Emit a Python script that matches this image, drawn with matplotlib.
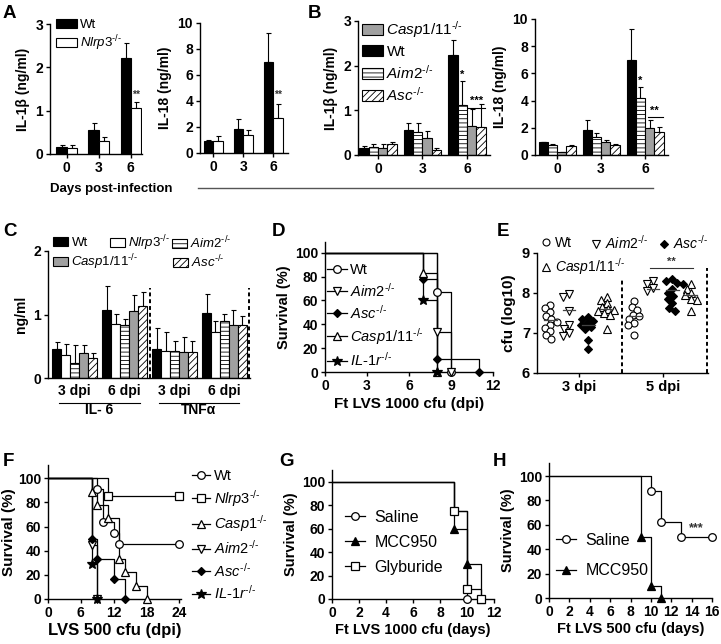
import numpy as np
import matplotlib
matplotlib.use('Agg')
import matplotlib.pyplot as plt
from matplotlib.lines import Line2D
from matplotlib.patches import Patch
import matplotlib.transforms as mtransforms

# ---------------- data ----------------
# Panel A (Wt vs Nlrp3-/-), days 0, 3, 6
A_days = ['0', '3', '6']
A_il1b_wt = [0.17, 0.55, 2.21]
A_il1b_wt_err = [0.04, 0.16, 0.36]
A_il1b_nlrp3 = [0.13, 0.30, 1.07]
A_il1b_nlrp3_err = [0.08, 0.10, 0.14]
A_il18_wt = [0.95, 1.84, 7.02]
A_il18_wt_err = [0.05, 0.77, 2.24]
A_il18_nlrp3 = [0.92, 1.40, 2.68]
A_il18_nlrp3_err = [0.41, 0.39, 1.07]

# Panel B (Wt, Aim2, Casp1/11, Asc)
B_days = ['0', '3', '6']
B_il1b_wt = [0.16, 0.56, 2.23]
B_il1b_wt_err = [0.05, 0.15, 0.35]
B_il1b_aim2 = [0.19, 0.51, 1.13]
B_il1b_aim2_err = [0.06, 0.20, 0.53]
B_il1b_casp = [0.16, 0.38, 0.64]
B_il1b_casp_err = [0.08, 0.16, 0.40]
B_il1b_asc = [0.25, 0.12, 0.63]
B_il1b_asc_err = [0.05, 0.04, 0.52]
B_il18_wt = [0.93, 1.81, 6.99]
B_il18_wt_err = [0.05, 0.76, 2.25]
B_il18_aim2 = [0.74, 1.30, 4.17]
B_il18_aim2_err = [0.05, 0.34, 0.81]
B_il18_casp = [0.22, 0.93, 1.99]
B_il18_casp_err = [0.03, 0.17, 0.58]
B_il18_asc = [0.66, 0.71, 1.67]
B_il18_asc_err = [0.10, 0.07, 0.41]

# Panel C (IL-6 3dpi, IL-6 6dpi, TNFa 3dpi, TNFa 6dpi)
C_groups = ['3 dpi', '6 dpi', '3 dpi', '6 dpi']
C_cytokines = ['IL- 6', 'TNF\u03b1']
C_wt = [0.46, 1.07, 0.46, 1.02]
C_wt_err = [0.11, 0.38, 0.33, 0.30]
C_nlrp3 = [0.37, 0.85, 0.42, 0.72]
C_nlrp3_err = [0.16, 0.16, 0.30, 0.17]
C_aim2 = [0.24, 0.84, 0.43, 0.89]
C_aim2_err = [0.28, 0.09, 0.16, 0.12]
C_casp = [0.39, 1.05, 0.41, 0.84]
C_casp_err = [0.13, 0.25, 0.24, 0.23]
C_asc = [0.31, 1.13, 0.41, 0.84]
C_asc_err = [0.08, 0.22, 0.17, 0.13]

# Panel D survival (Ft LVS 1000 cfu)
D_wt_t, D_wt_s = [0, 8, 9], [100, 66.7, 0]
D_aim2_t, D_aim2_s = [0, 8, 9], [100, 33.3, 0]
D_asc_t, D_asc_s = [0, 7, 8, 11], [100, 77.8, 11.1, 0]
D_casp_t, D_casp_s = [0, 7, 8], [100, 83.3, 0]
D_il1r_t, D_il1r_s = [0, 7, 8], [100, 60.0, 0]

# Panel E cfu (log10)
E_days = ['3 dpi', '5 dpi']
E_wt_3 = [7.70, 7.62, 7.52, 7.42, 7.35, 7.28, 7.20, 7.12, 7.05, 6.95, 6.86]
E_aim2_3 = [7.98, 7.90, 7.55, 7.20, 7.10, 7.00, 6.92]
E_asc_3 = [7.40, 7.35, 7.30, 7.25, 7.20, 7.15, 7.10, 6.82, 6.60]
E_casp_3 = [7.90, 7.82, 7.75, 7.65, 7.60, 7.58, 7.55, 7.50, 7.45, 7.10]
E_wt_5 = [7.79, 7.65, 7.58, 7.46, 7.42, 7.35, 7.25, 7.20, 6.96]
E_aim2_5 = [8.30, 8.22, 8.12, 8.05]
E_asc_5 = [8.35, 8.30, 8.25, 8.22, 8.10, 8.00, 7.92, 7.85, 7.75, 7.62, 7.55]
E_casp_5 = [8.22, 8.10, 8.00, 7.95, 7.85, 7.82, 7.55]
E_center_3 = [7.33, 7.58, 7.20, 7.60]
E_center_5 = [7.42, 8.10, 8.07, 7.95]

# Panel F survival (LVS 500 cfu)
F_wt_t, F_wt_s = [0, 9, 10, 12, 13, 24], [100, 90.9, 63.6, 54.5, 45.5, 45.5]
F_nlrp3_t, F_nlrp3_s = [0, 11, 24], [100, 85.7, 85.7]
F_casp_t, F_casp_s = [0, 8, 9, 11, 13, 14, 16, 18], [100, 88.9, 77.8, 66.7, 33.3, 22.2, 11.1, 0]
F_aim2_t, F_aim2_s = [0, 8, 9], [100, 44.4, 0]
F_asc_t, F_asc_s = [0, 8, 9, 12, 14], [100, 50.0, 33.3, 16.7, 0]
F_il1r_t, F_il1r_s = [0, 8, 9], [100, 28.6, 0]

# Panel G survival (Ft LVS 1000 cfu)
G_saline_t, G_saline_s = [0, 9, 10], [100, 75.0, 0]
G_mcc_t, G_mcc_s = [0, 9, 10, 11], [100, 60.0, 30.0, 0]
G_gly_t, G_gly_s = [0, 9, 10, 11], [100, 75.0, 8.3, 0]

# Panel H survival (Ft LVS 500 cfu)
H_saline_t, H_saline_s = [0, 10, 11, 13, 16], [100, 87.5, 62.5, 50.0, 50.0]
H_mcc_t, H_mcc_s = [0, 9, 10, 11], [100, 50.0, 10.0, 0]

# ---------------- style ----------------
plt.rcParams.update({
    'font.family': ['Liberation Sans', 'DejaVu Sans'],
    'font.weight': 'bold',
    'axes.labelweight': 'bold',
    'mathtext.fontset': 'custom',
    'mathtext.rm': 'Liberation Sans:weight=normal',
    'mathtext.it': 'Liberation Sans:style=italic:weight=normal',
    'mathtext.bf': 'Liberation Sans:weight=bold',
    'hatch.linewidth': 0.6,
    'axes.linewidth': 1.0,
    'xtick.major.width': 1.0, 'ytick.major.width': 1.0,
    'xtick.major.size': 3, 'ytick.major.size': 3,
    'xtick.major.pad': 2, 'ytick.major.pad': 2,
})

W, H = 721, 644
fig = plt.figure(figsize=(W / 100, H / 100), dpi=100)


def add_ax(x0, y0, x1, y1):
    return fig.add_axes([x0 / W, 1 - y1 / H, (x1 - x0) / W, (y1 - y0) / H])


def fx(x):
    return x / W


def fy(y):
    return 1 - y / H


def style(ax, size=10):
    for s in ['top', 'right']:
        ax.spines[s].set_visible(False)
    ax.tick_params(direction='out', labelsize=size)


def gl(name):
    return '$\\mathit{' + name + '}^{\\mathit{\u2010/\u2010}}$'


GRAY = '#a0a0a0'
ST = {
    'wt': dict(facecolor='black', edgecolor='black'),
    'nlrp3': dict(facecolor='white', edgecolor='black'),
    'aim2': dict(facecolor='white', edgecolor='black', hatch='----'),
    'casp': dict(facecolor=GRAY, edgecolor='black'),
    'asc': dict(facecolor='white', edgecolor='black', hatch='/////'),
}


def bars(ax, series, errs, styles, width):
    n = len(series)
    pos = []
    for i, (vals, er, st) in enumerate(zip(series, errs, styles)):
        x = np.arange(len(vals)) + (i - (n - 1) / 2) * width
        ax.errorbar(x, vals, yerr=[np.zeros(len(vals)), er], fmt='none', ecolor='black',
                    elinewidth=0.8, capsize=1.8, capthick=0.8, zorder=1)
        ax.bar(x, vals, width, linewidth=0.8, zorder=2, **ST[st])
        pos.append(x)
    return pos


def leg_patch(x, y, key, label, size, hl=1.6, hh=0.7):
    h = Patch(linewidth=0.8, **ST[key])
    fig.legend([h], [label], loc='center left', bbox_to_anchor=(fx(x), fy(y)), frameon=False,
               prop={'size': size, 'weight': 'normal'}, borderpad=0, borderaxespad=0,
               handlelength=hl, handleheight=hh, handletextpad=0.25)


# ---------------- Panel A ----------------
axA1 = add_ax(50, 24, 142, 154)
pA1 = bars(axA1, [A_il1b_wt, A_il1b_nlrp3], [A_il1b_wt_err, A_il1b_nlrp3_err], ['wt', 'nlrp3'], 0.32)
axA1.set_xlim(-0.52, 2.35)
axA1.set_ylim(0, 3)
axA1.set_yticks([0, 1, 2, 3])
axA1.set_xticks(range(3), A_days)
axA1.set_ylabel('IL-1\u03b2 (ng/ml)', fontsize=10, labelpad=4)
style(axA1)
axA1.text(pA1[1][2], A_il1b_nlrp3[2] + A_il1b_nlrp3_err[2] + 0.05, '**', ha='center', va='bottom',
          fontsize=7.5, color='#333333')
leg_patch(56, 25, 'wt', 'Wt', 9.5)
leg_patch(56, 43, 'nlrp3', gl('Nlrp3'), 9.5)

axA2 = add_ax(200, 23, 288, 153)
pA2 = bars(axA2, [A_il18_wt, A_il18_nlrp3], [A_il18_wt_err, A_il18_nlrp3_err], ['wt', 'nlrp3'], 0.32)
axA2.set_xlim(-0.44, 2.49)
axA2.set_ylim(0, 10)
axA2.set_yticks([0, 2, 4, 6, 8, 10])
axA2.set_xticks(range(3), A_days)
axA2.set_ylabel('IL-18 (ng/ml)', fontsize=10, labelpad=4)
style(axA2)
axA2.text(pA2[1][2], A_il18_nlrp3[2] + A_il18_nlrp3_err[2] + 0.35, '**', ha='center', va='bottom',
          fontsize=7.5, color='#333333')

fig.text(fx(50), fy(189), 'Days post-infection', fontsize=9.5, fontweight='bold', ha='left', va='center')
fig.add_artist(Line2D([fx(198), fx(653)], [fy(188), fy(188)], color='#555555', linewidth=1.0))

# ---------------- Panel B ----------------
axB1 = add_ax(358, 21, 490, 155)
pB1 = bars(axB1, [B_il1b_wt, B_il1b_aim2, B_il1b_casp, B_il1b_asc],
           [B_il1b_wt_err, B_il1b_aim2_err, B_il1b_casp_err, B_il1b_asc_err],
           ['wt', 'aim2', 'casp', 'asc'], 0.21)
axB1.set_xlim(-0.45, 2.52)
axB1.set_ylim(0, 3)
axB1.set_yticks([0, 1, 2, 3])
axB1.set_xticks(range(3), B_days)
axB1.set_ylabel('IL-1\u03b2 (ng/ml)', fontsize=10, labelpad=4)
style(axB1)
axB1.text(pB1[1][2], B_il1b_aim2[2] + B_il1b_aim2_err[2] + 0.03, '*', ha='center', va='bottom', fontsize=8)
yb = max(B_il1b_casp[2] + B_il1b_casp_err[2], B_il1b_asc[2] + B_il1b_asc_err[2]) - 0.1
axB1.plot([pB1[2][2] - 0.08, pB1[3][2] + 0.1], [yb, yb], color='black', linewidth=0.8)
axB1.text((pB1[2][2] + pB1[3][2]) / 2, yb + 0.04, '***', ha='center', va='bottom', fontsize=8)

axB2 = add_ax(535, 19, 668, 155)
pB2 = bars(axB2, [B_il18_wt, B_il18_aim2, B_il18_casp, B_il18_asc],
           [B_il18_wt_err, B_il18_aim2_err, B_il18_casp_err, B_il18_asc_err],
           ['wt', 'aim2', 'casp', 'asc'], 0.21)
axB2.set_xlim(-0.5, 2.52)
axB2.set_ylim(0, 10)
axB2.set_yticks([0, 2, 4, 6, 8, 10])
axB2.set_xticks(range(3), B_days)
axB2.set_ylabel('IL-18 (ng/ml)', fontsize=10, labelpad=4)
style(axB2)
axB2.text(pB2[1][2], B_il18_aim2[2] + B_il18_aim2_err[2] + 0.1, '*', ha='center', va='bottom', fontsize=8)
yb2 = B_il18_casp[2] + B_il18_casp_err[2] + 0.2
axB2.plot([pB2[2][2] - 0.05, pB2[3][2] + 0.1], [yb2, yb2], color='black', linewidth=0.8)
axB2.text((pB2[2][2] + pB2[3][2]) / 2, yb2 + 0.1, '**', ha='center', va='bottom', fontsize=8)

leg_patch(362, 30, 'casp', gl('Casp1/11'), 11, hl=1.35)
leg_patch(362, 52, 'wt', 'Wt', 11, hl=1.35)
leg_patch(362, 73, 'aim2', gl('Aim2'), 11, hl=1.35)
leg_patch(362, 95, 'asc', gl('Asc'), 11, hl=1.35)

# ---------------- Panel C ----------------
axC = add_ax(48, 251, 250, 378)
pC = bars(axC, [C_wt, C_nlrp3, C_aim2, C_casp, C_asc],
          [C_wt_err, C_nlrp3_err, C_aim2_err, C_casp_err, C_asc_err],
          ['wt', 'nlrp3', 'aim2', 'casp', 'asc'], 0.18)
axC.set_xlim(-0.53, 3.51)
axC.set_ylim(0, 2)
axC.set_yticks([0, 1, 2])
axC.set_xticks(range(4), C_groups)
axC.set_ylabel('ng/ml', fontsize=10, labelpad=4)
style(axC)
axC.tick_params(axis='x', length=0, pad=4)
for xd in [1.5, 3.5]:
    axC.plot([xd, xd], [0, 1.42], color='black', linestyle=(0, (2, 1.5)), linewidth=1.4, clip_on=False)
trC = mtransforms.blended_transform_factory(axC.transData, axC.transAxes)
for k, lab in enumerate(C_cytokines):
    a, b = 2 * k - 0.32, 2 * k + 1 + 0.3
    axC.plot([a, b], [-0.197, -0.197], color='black', linewidth=0.8, transform=trC, clip_on=False)
    axC.text((a + b) / 2, -0.255, lab, transform=trC, ha='center', va='center', fontsize=10)
leg_patch(53, 243, 'wt', 'Wt', 9.5, hl=1.15)
leg_patch(110, 243, 'nlrp3', gl('Nlrp3'), 9.5, hl=1.15)
leg_patch(172, 243, 'aim2', gl('Aim2'), 9.5, hl=1.15)
leg_patch(53, 262, 'casp', gl('Casp1/11'), 9.5, hl=1.15)
leg_patch(173, 262, 'asc', gl('Asc'), 9.5, hl=1.15)


# ---------------- survival helpers ----------------
MK = {
    'wt': dict(marker='o', markerfacecolor='white', markersize=5.5),
    'aim2': dict(marker='v', markerfacecolor='white', markersize=6),
    'asc': dict(marker='D', markerfacecolor='black', markersize=4.5),
    'casp': dict(marker='^', markerfacecolor='white', markersize=6),
    'il1r': dict(marker='*', markerfacecolor='black', markersize=7),
    'nlrp3': dict(marker='s', markerfacecolor='white', markersize=5.5),
    'mcc': dict(marker='^', markerfacecolor='black', markersize=6),
}


def km(ax, t, s, key):
    ax.step(t, s, where='post', color='black', linewidth=0.9, zorder=2)
    ax.plot(t[1:], s[1:], linestyle='none', color='black', markeredgewidth=0.9, zorder=3,
            clip_on=False, **MK[key])


def km_handle(key):
    return Line2D([0], [0], color='black', linewidth=0.9, markeredgewidth=0.9, **MK[key])


# ---------------- Panel D ----------------
axD = add_ax(325, 242, 493, 372)
km(axD, D_wt_t, D_wt_s, 'wt')
km(axD, D_aim2_t, D_aim2_s, 'aim2')
km(axD, D_asc_t, D_asc_s, 'asc')
km(axD, D_casp_t, D_casp_s, 'casp')
km(axD, D_il1r_t, D_il1r_s, 'il1r')
axD.set_xlim(0, 12)
axD.set_ylim(0, 109)
axD.set_xticks([0, 3, 6, 9, 12])
axD.set_yticks([0, 20, 40, 60, 80, 100])
axD.set_ylabel('Survival (%)', fontsize=10.5, labelpad=3)
axD.set_xlabel('Ft LVS 1000 cfu (dpi)', fontsize=11, labelpad=3)
style(axD)
axD.legend([km_handle(k) for k in ['wt', 'aim2', 'asc', 'casp', 'il1r']],
           ['Wt', gl('Aim2'), gl('Asc'), gl('Casp1/11'), gl('IL\u20101r')],
           loc='upper left', bbox_to_anchor=(fx(327), fy(263)), bbox_transform=fig.transFigure,
           frameon=False, prop={'size': 10.5, 'weight': 'normal'}, borderpad=0, borderaxespad=0,
           handlelength=1.35, handletextpad=0.2, labelspacing=0.3)

# ---------------- Panel E ----------------
axE = add_ax(537, 253, 708, 373)
axE.set_xlim(0, 4.07)
axE.set_ylim(6, 9)
E_offsets = [-0.68, -0.24, 0.22, 0.66]
E_keys = ['wt', 'aim2', 'asc', 'casp']
E_mk = {
    'wt': dict(marker='o', markerfacecolor='white', markersize=5),
    'aim2': dict(marker='v', markerfacecolor='white', markersize=5.5),
    'asc': dict(marker='D', markerfacecolor='black', markersize=4.5),
    'casp': dict(marker='^', markerfacecolor='white', markersize=5.5),
}
pxx = 171 / 4.07
pxy = 120 / 3.0


def swarm(vals, center, d=6.0):
    placed = []
    xs = []
    for v in vals:
        yp = v * pxy
        cand = sorted(np.arange(-30, 30.5, 0.5), key=abs)
        for off in cand:
            if all((off - a) ** 2 + (yp - b) ** 2 >= d * d for a, b in placed):
                break
        placed.append((off, yp))
        xs.append(center + off / pxx)
    return xs


E_data = [[E_wt_3, E_aim2_3, E_asc_3, E_casp_3], [E_wt_5, E_aim2_5, E_asc_5, E_casp_5]]
E_centers = [E_center_3, E_center_5]
for gi, gc in enumerate([1, 3]):
    for k, key in enumerate(E_keys):
        c = gc + E_offsets[k]
        vals = E_data[gi][k]
        xs = swarm(vals, c)
        axE.plot(xs, vals, linestyle='none', color='black', markeredgewidth=0.8, **E_mk[key])
        cv = E_centers[gi][k]
        axE.plot([c - 0.15, c + 0.15], [cv, cv], color='#444444', linewidth=0.9, zorder=4)
axE.set_xticks([1, 3], E_days)
axE.set_yticks([6, 7, 8, 9])
axE.set_ylabel('cfu (log10)', fontsize=11, labelpad=4)
style(axE, 10.5)
axE.plot([2.02, 2.02], [6, 8.37], color='black', linestyle=(0, (2, 1.5)), linewidth=1.4)
axE.plot([4.05, 4.05], [6, 8.63], color='black', linestyle=(0, (2, 1.5)), linewidth=1.4, clip_on=False)
axE.plot([2.69, 3.71], [8.62, 8.62], color='#333333', linewidth=0.8)
axE.text(3.2, 8.66, '**', ha='center', va='bottom', fontsize=8, color='#333333')


def leg_mark(x, y, key, label, size, mk):
    h = Line2D([0], [0], linestyle='none', color='black', markeredgewidth=0.8, **mk[key])
    fig.legend([h], [label], loc='center left', bbox_to_anchor=(fx(x), fy(y)), frameon=False,
               prop={'size': size, 'weight': 'normal'}, borderpad=0, borderaxespad=0,
               handlelength=0.8, handletextpad=0.3)


leg_mark(540, 243, 'wt', 'Wt', 10, E_mk)
leg_mark(590, 243, 'aim2', gl('Aim2'), 10, E_mk)
leg_mark(658, 243, 'asc', gl('Asc'), 10, E_mk)
leg_mark(540, 267, 'casp', gl('Casp1/11'), 10, E_mk)

# ---------------- Panel F ----------------
axF = add_ax(48, 465, 181, 599)
km(axF, F_wt_t, F_wt_s, 'wt')
km(axF, F_nlrp3_t, F_nlrp3_s, 'nlrp3')
km(axF, F_casp_t, F_casp_s, 'casp')
km(axF, F_aim2_t, F_aim2_s, 'aim2')
km(axF, F_asc_t, F_asc_s, 'asc')
km(axF, F_il1r_t, F_il1r_s, 'il1r')
axF.set_xlim(0, 24.3)
axF.set_ylim(0, 111)
axF.set_xticks([0, 6, 12, 18, 24])
axF.set_yticks([0, 20, 40, 60, 80, 100])
axF.set_ylabel('Survival (%)', fontsize=11, labelpad=1)
axF.set_xlabel('LVS 500 cfu (dpi)', fontsize=12, labelpad=2)
style(axF, 10)
fig.legend([km_handle(k) for k in ['wt', 'nlrp3', 'casp', 'aim2', 'asc', 'il1r']],
           ['Wt', gl('Nlrp3'), gl('Casp1'), gl('Aim2'), gl('Asc'), gl('IL\u20101r')],
           loc='upper left', bbox_to_anchor=(fx(192), fy(469)),
           frameon=False, prop={'size': 10.5, 'weight': 'normal'}, borderpad=0, borderaxespad=0,
           handlelength=1.2, handletextpad=0.3, labelspacing=0.32)

# ---------------- Panel G ----------------
axG = add_ax(332, 470, 494, 599)
km(axG, G_saline_t, G_saline_s, 'wt')
km(axG, G_mcc_t, G_mcc_s, 'mcc')
km(axG, G_gly_t, G_gly_s, 'nlrp3')
axG.set_xlim(0, 12)
axG.set_ylim(0, 110)
axG.set_xticks(range(0, 13, 2))
axG.set_yticks([0, 20, 40, 60, 80, 100])
axG.set_ylabel('Survival (%)', fontsize=10.5, labelpad=3)
axG.set_xlabel('Ft LVS 1000 cfu (days)', fontsize=10.5, labelpad=2)
style(axG, 10)
axG.legend([km_handle(k) for k in ['wt', 'mcc', 'nlrp3']], ['Saline', 'MCC950', 'Glyburide'],
           loc='upper left', bbox_to_anchor=(fx(345), fy(510)), bbox_transform=fig.transFigure,
           frameon=False, prop={'size': 11.5, 'weight': 'normal'}, borderpad=0, borderaxespad=0,
           handlelength=1.25, handletextpad=0.6, labelspacing=0.62)

# ---------------- Panel H ----------------
axH = add_ax(549, 463, 712, 598)
km(axH, H_saline_t, H_saline_s, 'wt')
km(axH, H_mcc_t, H_mcc_s, 'mcc')
axH.set_xlim(0, 16)
axH.set_ylim(0, 110.7)
axH.set_xticks(range(0, 17, 2))
axH.set_yticks([0, 20, 40, 60, 80, 100])
axH.set_ylabel('Survival (%)', fontsize=10.5, labelpad=3)
axH.set_xlabel('Ft LVS 500 cfu (days)', fontsize=10.5, labelpad=2)
style(axH, 10)
axH.text(14.5, 52.5, '***', ha='center', va='bottom', fontsize=9, color='#333333')
axH.legend([km_handle(k) for k in ['wt', 'mcc']], ['Saline', 'MCC950'],
           loc='upper left', bbox_to_anchor=(fx(556), fy(533)), bbox_transform=fig.transFigure,
           frameon=False, prop={'size': 11.5, 'weight': 'normal'}, borderpad=0, borderaxespad=0,
           handlelength=1.25, handletextpad=0.6, labelspacing=0.95)

# ---------------- panel letters ----------------
for lab, x, y in [('A', 3, 13), ('B', 308, 13), ('C', 3, 232), ('D', 272, 231), ('E', 497, 231),
                  ('F', 3, 461), ('G', 279, 462), ('H', 493, 462)]:
    fig.text(fx(x), fy(y), lab, fontsize=13.5, fontweight='bold', ha='left', va='center')

fig.savefig('out.png', dpi=100)
